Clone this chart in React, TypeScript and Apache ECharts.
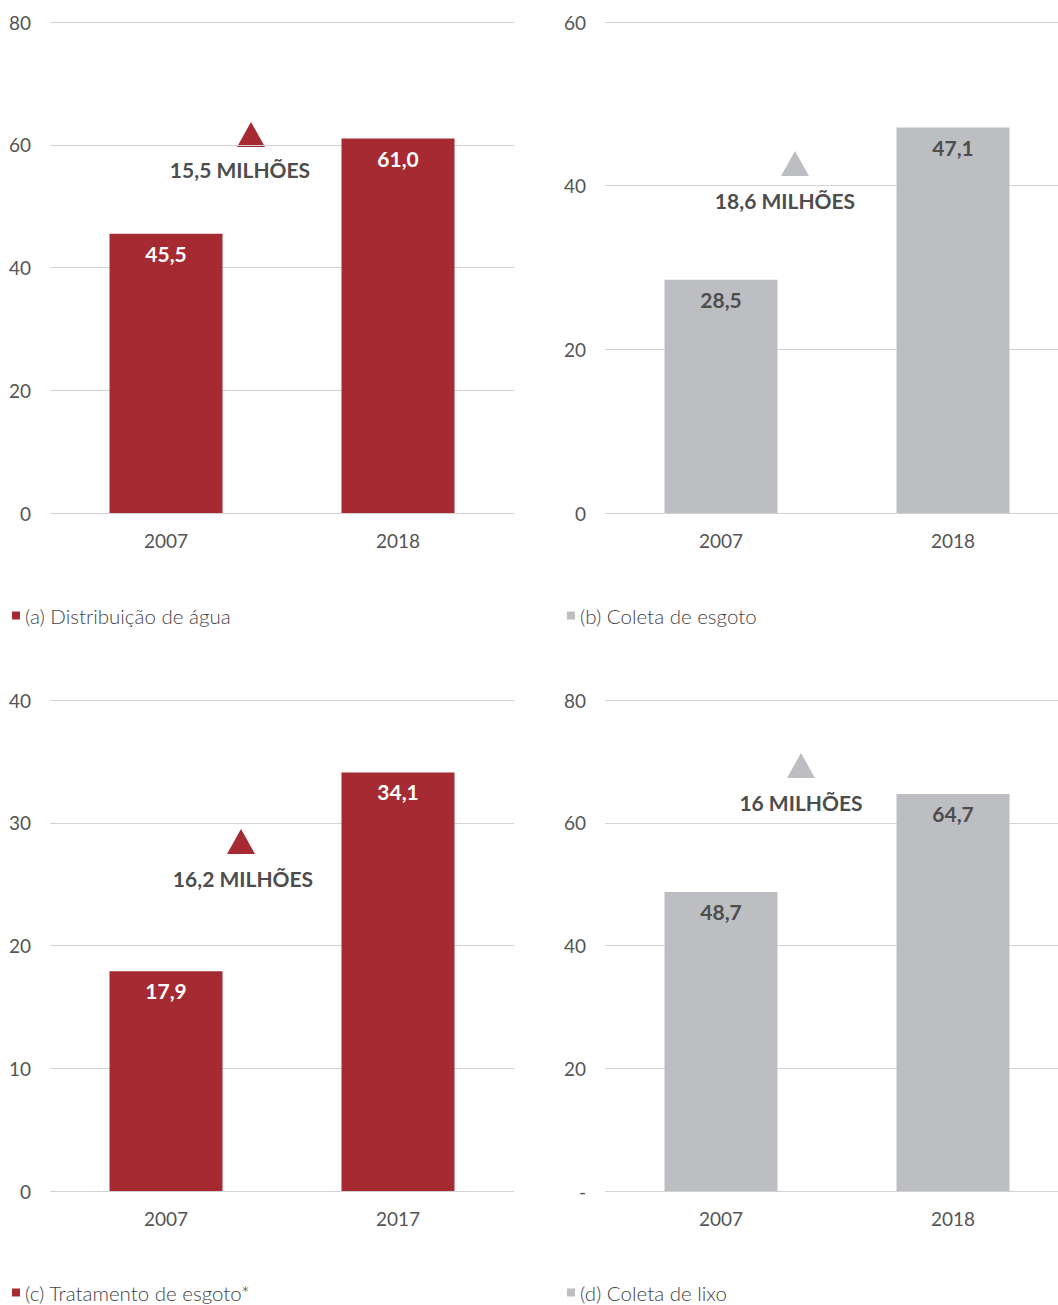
import React, { useEffect, useRef } from "react";
import * as echarts from "echarts";

const panelNames = ["(a) Distribuição de água", "(b) Coleta de esgoto", "(c) Tratamento de esgoto*", "(d) Coleta de lixo"];
const categoriesA = ["2007", "2018"];
const categoriesB = ["2007", "2018"];
const categoriesC = ["2007", "2017"];
const categoriesD = ["2007", "2018"];
const valuesA = [45.5, 61.0];
const valuesB = [28.5, 47.1];
const valuesC = [17.9, 34.1];
const valuesD = [48.7, 64.7];
const axisMax = [80, 60, 40, 80];
const axisInterval = [20, 20, 10, 20];
const growthLabels = ["15,5 MILHÕES", "18,6 MILHÕES", "16,2 MILHÕES", "16 MILHÕES"];

const RED = "#A62A32";
const GRAY = "#BDBEC2";
const FONT = "Lato";

export default function App() {
  const ref = useRef<HTMLDivElement>(null);
  useEffect(() => {
    if (!ref.current) return;
    const chart = echarts.init(ref.current, undefined, { renderer: "svg" });
    const cats = [categoriesA, categoriesB, categoriesC, categoriesD];
    const vals = [valuesA, valuesB, valuesC, valuesD];
    const colors = [RED, GRAY, RED, GRAY];
    const labelColors = ["#ffffff", "#4d4d4d", "#ffffff", "#4d4d4d"];
    const pos = [
      { left: 50, top: 22 },
      { left: 605, top: 22 },
      { left: 50, top: 700 },
      { left: 605, top: 700 },
    ];
    const grids = pos.map((p) => ({ left: p.left, top: p.top, width: 464, height: 491 }));
    const xAxes = cats.map((c, i) => ({
      type: "category",
      gridIndex: i,
      data: c,
      axisLine: { show: false },
      axisTick: { show: false },
      axisLabel: { color: "#555", fontFamily: FONT, fontSize: 19, margin: 18 },
    }));
    const yAxes = axisMax.map((m, i) => ({
      type: "value",
      gridIndex: i,
      min: 0,
      max: m,
      interval: axisInterval[i],
      axisLine: { show: false },
      axisTick: { show: false },
      splitLine: { lineStyle: { color: "#d2d2d2", width: 1 } },
      axisLabel: {
        color: "#555",
        fontFamily: FONT,
        fontSize: 19,
        margin: 19,
        formatter: (v: number) => (i === 3 && v === 0 ? "-" : String(v)),
      },
    }));
    const series = vals.map((v, i) => ({
      type: "bar",
      name: panelNames[i],
      xAxisIndex: i,
      yAxisIndex: i,
      data: v,
      barWidth: 113,
      itemStyle: { color: colors[i] },
      label: {
        show: true,
        position: "insideTop",
        distance: 9,
        color: labelColors[i],
        fontFamily: FONT,
        fontWeight: "bold",
        fontSize: 21,
        formatter: (p: any) => Number(p.value).toFixed(1).replace(".", ","),
      },
    }));
    const legendPos = [
      { left: 7, top: 600 },
      { left: 562, top: 600 },
      { left: 7, top: 1277 },
      { left: 562, top: 1277 },
    ];
    const legends = panelNames.map((n, i) => ({
      data: [n],
      left: legendPos[i].left,
      top: legendPos[i].top,
      icon: "rect",
      itemWidth: 8,
      itemHeight: 8,
      itemGap: 6,
      selectedMode: false,
      textStyle: { color: "#444", fontFamily: FONT, fontSize: 20.5, fontWeight: 300 },
    }));
    const triPos = [
      { x: 251, y: 122, tx: 240, ty: 169 },
      { x: 795, y: 151, tx: 785, ty: 200 },
      { x: 241, y: 829, tx: 243, ty: 878 },
      { x: 801, y: 753, tx: 801, ty: 802 },
    ];
    const graphics: any[] = [];
    triPos.forEach((t, i) => {
      graphics.push({
        type: "polygon",
        shape: { points: [[t.x - 14, t.y + 25], [t.x, t.y], [t.x + 14, t.y + 25]] },
        style: { fill: colors[i] },
      });
      graphics.push({
        type: "text",
        x: t.tx,
        y: t.ty,
        style: {
          text: growthLabels[i],
          fill: "#4d4d4d",
          font: `bold 21px ${FONT}`,
          textAlign: "center",
          textVerticalAlign: "middle",
        },
      });
    });
    chart.setOption({
      animation: false,
      grid: grids,
      xAxis: xAxes,
      yAxis: yAxes,
      series,
      legend: legends,
      graphic: graphics,
    });
    return () => chart.dispose();
  }, []);
  return (
    <div style={{ position: "absolute", left: 0, top: 0, width: 1058, height: 1305, overflow: "hidden" }}>
      <div ref={ref} style={{ width: 1072, height: 1305 }} />
    </div>
  );
}
